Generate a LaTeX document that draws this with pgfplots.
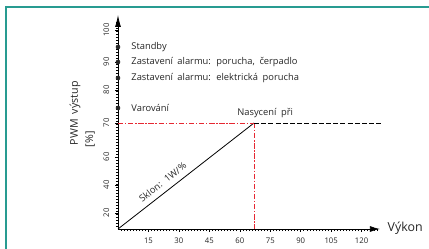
\documentclass[border=0pt]{standalone}
\usepackage{fontspec}
\setmainfont{Open Sans}
\newfontfamily\lbl[WordSpace=1.9]{Open Sans}
\usepackage{pgfplots}
\pgfplotsset{compat=1.18}
\usetikzlibrary{arrows.meta}
\definecolor{frame}{RGB}{40,155,145}
\definecolor{myred}{RGB}{230,40,50}
\begin{document}
\begin{tikzpicture}[x=1pt,y=1pt]
\useasboundingbox (0,0) rectangle (321.75,186.75);
\draw[frame, line width=1.4pt] (4.5,0) -- (4.5,181.6) -- (321.75,181.6);
\begin{axis}[
  at={(88.5pt,15pt)}, anchor=origin,
  x=1.5225pt, y=0.75pt,
  xmin=0, xmax=129, ymin=0, ymax=214,
  enlargelimits=false, clip=false,
  axis lines=left,
  axis line style={line width=0.6pt},
  x axis line style={-{Latex[length=7.5pt,width=4.5pt]}},
  y axis line style={-{Latex[length=9pt,width=4.5pt]}},
  xtick={15,30,45,60,75,90,105,120},
  minor xtick={1.5,3,...,127.5},
  ytick={16,44,72,106,139,167,199},
  yticklabels={20,40,60,70,80,90,100},
  minor ytick={3,6,...,207},
  tick align=outside,
  major tick length=2.2pt, minor tick length=1.6pt,
  every tick/.style={black, line width=0.4pt},
  /pgf/number format/assume math mode=true,
  ticklabel style={font=\fontsize{5.8}{6}\selectfont, text=black!85},
  yticklabel style={rotate=90, anchor=center, yshift=6.5pt},
  xticklabel style={anchor=center, yshift=-6.5pt},
]
\addplot[black, line width=0.6pt] coordinates {(0,0) (67,106)};
\addplot[myred, line width=0.6pt, dash pattern=on 4pt off 1.3pt on 1pt off 1.3pt] coordinates {(0,106) (67,106)};
\addplot[myred, line width=0.6pt, dash pattern=on 4pt off 1.3pt on 1pt off 1.3pt] coordinates {(67,106) (67,0)};
\addplot[black, line width=0.6pt, dash pattern=on 3.8pt off 1.6pt] coordinates {(67,106) (130,106)};
\addplot[only marks, mark=*, mark size=1.5pt, black!85] coordinates {(0,182) (0,167) (0,151) (0,121)};
\begin{scope}[every node/.style={font=\lbl\fontsize{7}{8}\selectfont, text=black!85}]
\node[anchor=west] at (axis cs:4.3,182) {Standby};
\node[anchor=west] at (axis cs:4.3,167) {Zastavení alarmu: porucha, čerpadlo};
\node[anchor=west] at (axis cs:4.3,151) {Zastavení alarmu: elektrická porucha};
\node[anchor=west] at (axis cs:4.3,121) {Varování};
\node at (axis cs:72.5,116) {Nasycení při};
\node[rotate=38, inner sep=0pt] at (axis cs:22,47) {Sklon: 1W/\%};
\end{scope}
\node[anchor=west, font=\fontsize{9.3}{10}\selectfont, text=black!85] at (axis cs:130.5,1) {Výkon};
\node[anchor=west, rotate=90, font=\lbl\fontsize{8}{9}\selectfont, text=black!85] at (axis cs:-21.2,79) {PWM výstup};
\node[anchor=west, rotate=90, font=\lbl\fontsize{8}{9}\selectfont, text=black!85] at (axis cs:-13.8,77) {[\%]};
\end{axis}
\end{tikzpicture}
\end{document}
